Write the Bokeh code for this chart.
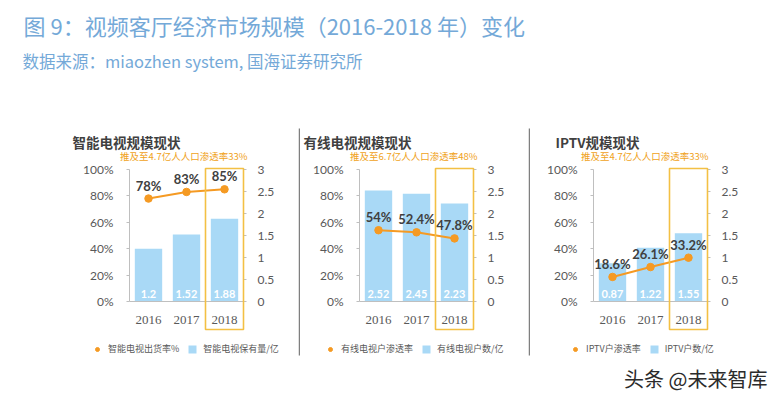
from bokeh.plotting import figure
from bokeh.models import (Range1d, LinearAxis, FixedTicker, BoxAnnotation, Label,
                          Legend, LegendItem)
from bokeh.layouts import column, row
from bokeh.embed import file_html
from bokeh.resources import INLINE
from bokeh.core.properties import value

# ---------------- data ----------------
CHART_TITLE = "图 9：视频客厅经济市场规模（2016-2018 年）变化"
CHART_SOURCE = "数据来源：miaozhen system, 国海证券研究所"
WATERMARK = "头条 @未来智库"

YEARS = ["2016", "2017", "2018"]
HIGHLIGHT = "2018"

PANEL_TITLES = ["智能电视规模现状", "有线电视规模现状", "IPTV规模现状"]
PANEL_NOTES = ["推及至4.7亿人人口渗透率33%", "推及至6.7亿人人口渗透率48%", "推及至4.7亿人人口渗透率33%"]

SMART_RATE = [0.78, 0.83, 0.85]
SMART_RATE_LABELS = ["78%", "83%", "85%"]
SMART_UNITS = [1.2, 1.52, 1.88]
SMART_UNIT_LABELS = ["1.2", "1.52", "1.88"]

CABLE_RATE = [0.54, 0.524, 0.478]
CABLE_RATE_LABELS = ["54%", "52.4%", "47.8%"]
CABLE_UNITS = [2.52, 2.45, 2.23]
CABLE_UNIT_LABELS = ["2.52", "2.45", "2.23"]

IPTV_RATE = [0.186, 0.261, 0.332]
IPTV_RATE_LABELS = ["18.6%", "26.1%", "33.2%"]
IPTV_UNITS = [0.87, 1.22, 1.55]
IPTV_UNIT_LABELS = ["0.87", "1.22", "1.55"]

LEGEND_RATE = ["智能电视出货率%", "有线电视户渗透率", "IPTV户渗透率"]
LEGEND_UNITS = ["智能电视保有量/亿", "有线电视户数/亿", "IPTV户数/亿"]

LEFT_TICKS = [0, 0.2, 0.4, 0.6, 0.8, 1.0]
LEFT_LABELS = ["0%", "20%", "40%", "60%", "80%", "100%"]
RIGHT_TICKS = [0, 0.5, 1, 1.5, 2, 2.5, 3]
RIGHT_LABELS = ["0", "0.5", "1", "1.5", "2", "2.5", "3"]

# ---------------- style / layout ----------------
BAR = "#a9d9f6"
ORANGE = "#f59a23"
GOLD = "#f3c044"
AXIS = "#bfbfbf"
TICK_TXT = "#595959"
DARK = "#404040"
BLUE_T = "#74a9d8"
NOTE_C = "#f0a21a"
SEP = "#7f7f7f"
CJK = "Noto Sans CJK SC"
NUM = "Lato"

PAGE_W, PAGE_H = 778, 399
HEAD_H = 120
PANEL_TOP, PANEL_BOT = 120, 365
PLOT_TOP, PLOT_BOT = 169, 301     # page y of 100% / 0%
CAT_W = 38                         # px per category
R_MAX = RIGHT_TICKS[-1]
L_MAX = LEFT_TICKS[-1]


def make_panel(idx, rate, rate_labels, units, unit_labels, page_left, page_right,
               plot_left, title_x, note_right, legend_x, sep_x=None):
    n = len(YEARS)
    ppu = (PLOT_BOT - PLOT_TOP) / L_MAX

    def px(x):
        return (x - plot_left) / CAT_W

    def py(y):
        return (PLOT_BOT - y) / ppu

    w = page_right - page_left
    h = PANEL_BOT - PANEL_TOP
    p = figure(width=w, height=h,
               x_range=Range1d(px(page_left), px(page_right)),
               y_range=Range1d(py(PANEL_BOT), py(PANEL_TOP)),
               x_axis_type=None, y_axis_type=None, min_border=0,
               output_backend="svg", toolbar_location=None, tools="")
    p.outline_line_color = None
    p.grid.visible = False
    ratio = R_MAX / L_MAX
    p.extra_y_ranges = {"units": Range1d(py(PANEL_BOT) * ratio, py(PANEL_TOP) * ratio)}

    la = LinearAxis(fixed_location=0, bounds=(LEFT_TICKS[0], LEFT_TICKS[-1]),
                    ticker=FixedTicker(ticks=LEFT_TICKS),
                    major_label_overrides=dict(zip(LEFT_TICKS, LEFT_LABELS)))
    ra = LinearAxis(y_range_name="units", fixed_location=n,
                    bounds=(RIGHT_TICKS[0], RIGHT_TICKS[-1]),
                    ticker=FixedTicker(ticks=RIGHT_TICKS),
                    major_label_overrides=dict(zip(RIGHT_TICKS, RIGHT_LABELS)))
    centers = [i + 0.5 for i in range(n)]
    xa = LinearAxis(fixed_location=0, bounds=(0, n),
                    ticker=FixedTicker(ticks=centers),
                    major_label_overrides=dict(zip(centers, YEARS)))
    for ax, standoff in ((la, 13), (ra, 11)):
        ax.axis_line_color = AXIS
        ax.major_tick_line_color = AXIS
        ax.major_tick_out = 3
        ax.major_tick_in = 0
        ax.minor_tick_line_color = None
        ax.major_label_standoff = standoff
        ax.major_label_text_font = NUM
        ax.major_label_text_font_size = "12px"
        ax.major_label_text_color = TICK_TXT
    xa.axis_line_color = AXIS
    xa.major_tick_line_color = None
    xa.minor_tick_line_color = None
    xa.major_label_standoff = 8
    xa.major_label_text_font = "Liberation Serif"
    xa.major_label_text_font_size = "13px"
    xa.major_label_text_color = TICK_TXT
    p.add_layout(la, "left")
    p.add_layout(ra, "right")
    p.add_layout(xa, "below")

    bars = p.vbar(x=centers, top=units, width=0.72, y_range_name="units",
                  fill_color=BAR, line_color=None)
    p.line(x=centers, y=rate, line_color=ORANGE, line_width=2)
    dots = p.scatter(x=centers, y=rate, size=7.5, fill_color=ORANGE, line_color=ORANGE)

    p.text(x=centers, y=rate, text=rate_labels, y_offset=-13,
           text_align="center", text_baseline="middle",
           text_font=value(NUM), text_font_style="bold",
           text_font_size="13px", text_color=DARK)
    p.text(x=centers, y=[0 for _ in YEARS], text=unit_labels, y_offset=-8,
           y_range_name="units", text_align="center", text_baseline="middle",
           text_font=value(NUM), text_font_style="bold",
           text_font_size="11px", text_color="white")

    hi = YEARS.index(HIGHLIGHT)
    p.add_layout(BoxAnnotation(left=hi, right=hi + 1, top=py(168), bottom=py(329),
                               fill_color=None, fill_alpha=0, line_color=GOLD,
                               line_alpha=1, line_width=1.6))

    p.add_layout(Label(x=px(title_x), y=py(141), text=PANEL_TITLES[idx],
                       text_baseline="middle", text_font=CJK, text_font_style="bold",
                       text_font_size="13.5px", text_color=DARK))
    p.add_layout(Label(x=px(note_right), y=py(155), text=PANEL_NOTES[idx],
                       text_baseline="middle", text_align="right",
                       text_font=CJK, text_font_size="9.5px", text_color=NOTE_C))

    legend = Legend(items=[LegendItem(label=LEGEND_RATE[idx], renderers=[dots]),
                           LegendItem(label=LEGEND_UNITS[idx], renderers=[bars])],
                    orientation="horizontal",
                    location=(legend_x - page_left, PANEL_BOT - 355),
                    border_line_color=None, background_fill_alpha=0,
                    padding=0, margin=0, spacing=8, label_standoff=6,
                    glyph_width=10, glyph_height=10, label_height=10,
                    label_text_font=CJK, label_text_font_size="9px",
                    label_text_color=TICK_TXT)
    p.add_layout(legend)

    if sep_x is not None:
        p.add_layout(BoxAnnotation(left=px(sep_x), right=px(sep_x + 1.5),
                                   top=py(128), bottom=py(355),
                                   fill_color=SEP, fill_alpha=1, line_color=None))
    return p


p1 = make_panel(0, SMART_RATE, SMART_RATE_LABELS, SMART_UNITS, SMART_UNIT_LABELS,
                0, 298, 129, 72, 247, 92)
p2 = make_panel(1, CABLE_RATE, CABLE_RATE_LABELS, CABLE_UNITS, CABLE_UNIT_LABELS,
                298, 528, 359, 303, 477, 325, sep_x=298)
p3 = make_panel(2, IPTV_RATE, IPTV_RATE_LABELS, IPTV_UNITS, IPTV_UNIT_LABELS,
                528, 778, 593, 555, 708, 570, sep_x=528)


def blank(w, h):
    f = figure(width=w, height=h, x_range=Range1d(0, w), y_range=Range1d(h, 0),
               x_axis_type=None, y_axis_type=None, min_border=0,
               output_backend="svg", toolbar_location=None, tools="")
    f.outline_line_color = None
    f.grid.visible = False
    return f


header = blank(PAGE_W, HEAD_H)
header.add_layout(Label(x=23, y=24, text=CHART_TITLE, text_baseline="middle",
                        text_font=CJK, text_font_size="22px", text_color=BLUE_T))
header.add_layout(Label(x=22, y=60, text=CHART_SOURCE, text_baseline="middle",
                        text_font=CJK, text_font_size="16.5px", text_color=BLUE_T))

footer = blank(PAGE_W, PAGE_H - PANEL_BOT)
footer.add_layout(Label(x=767, y=378 - PANEL_BOT, text=WATERMARK, text_baseline="middle",
                        text_align="right", text_font=CJK, text_font_size="20px",
                        text_color="#2b2b2b"))

layout = column(header, row(p1, p2, p3), footer)

open("out.html", "w").write(file_html(layout, INLINE))
